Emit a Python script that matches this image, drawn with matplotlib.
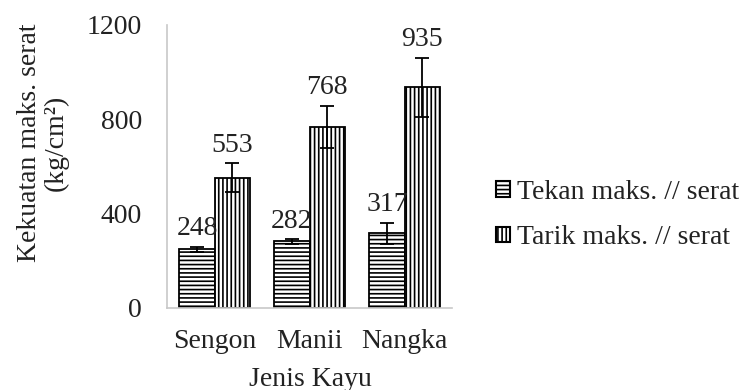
import matplotlib
matplotlib.use("Agg")
import matplotlib.pyplot as plt
import numpy as np
from matplotlib.patches import Patch

plt.rcParams['font.family'] = ['Liberation Serif', 'DejaVu Serif']
plt.rcParams['hatch.linewidth'] = 1.2
plt.rcParams['hatch.color'] = 'black'

jenis_kayu = ["Sengon", "Manii", "Nangka"]
tekan = [248, 282, 317]
tekan_err = [12, 10, 45]
tarik = [553, 768, 935]
tarik_err = [60, 90, 125]
yticks = [0, 400, 800, 1200]

fs = 20
fig = plt.figure(figsize=(7.5, 3.9), dpi=100)
ax = fig.add_axes([0.2227, 0.2103, 0.38, 0.7256])

x = np.arange(len(jenis_kayu))
w = 0.37
ekw = dict(ecolor='black', elinewidth=1.3, capsize=5, capthick=1.3)
b1 = ax.bar(x - w / 2, tekan, w, yerr=tekan_err, facecolor='white',
            edgecolor='black', linewidth=1.3, hatch='----', error_kw=ekw)
b2 = ax.bar(x + w / 2, tarik, w, yerr=tarik_err, facecolor='white',
            edgecolor='black', linewidth=1.3, hatch='||||', error_kw=ekw)

for xs, vals, errs in ((x - w / 2, tekan, tekan_err), (x + w / 2, tarik, tarik_err)):
    for xi, v, e in zip(xs, vals, errs):
        ax.annotate(f"{v}", (xi, v + e), xytext=(0, 4), textcoords='offset points',
                    ha='center', va='bottom', fontsize=fs, color='#222222')

ax.set_xlim(-0.5, 2.5)
ax.set_ylim(0, 1200)
ax.set_yticks(yticks)
ax.set_xticks(x)
ax.set_xticklabels(jenis_kayu)
ax.tick_params(axis='both', length=0, labelsize=fs, colors='#222222')
ax.tick_params(axis='y', pad=18)
ax.tick_params(axis='x', pad=15)
for s in ('top', 'right'):
    ax.spines[s].set_visible(False)
for s in ('left', 'bottom'):
    ax.spines[s].set_color('#c8c8c8')
    ax.spines[s].set_linewidth(1.2)

fig.text(310 / 750, 1 - 379 / 390, "Jenis Kayu", ha='center', va='center',
         fontsize=fs, color='#222222')
fig.text(43 / 750, 1 - 143 / 390, "Kekuatan maks. serat\n(kg/cm²)", rotation=90,
         ha='center', va='center', multialignment='center', fontsize=fs,
         color='#222222', linespacing=1.1)

handles = [Patch(facecolor='white', edgecolor='black', hatch='----', linewidth=1.5),
           Patch(facecolor='white', edgecolor='black', hatch='||||', linewidth=1.5)]
fig.legend(handles, ["Tekan maks. // serat", "Tarik maks. // serat"],
           loc='center left', bbox_to_anchor=(496 / 750, 1 - 215 / 390),
           frameon=False, fontsize=fs, handlelength=0.5, handleheight=0.5,
           handletextpad=0.25, labelspacing=0.75, borderpad=0, borderaxespad=0,
           labelcolor='#222222')

fig.savefig("out.png", dpi=100)
